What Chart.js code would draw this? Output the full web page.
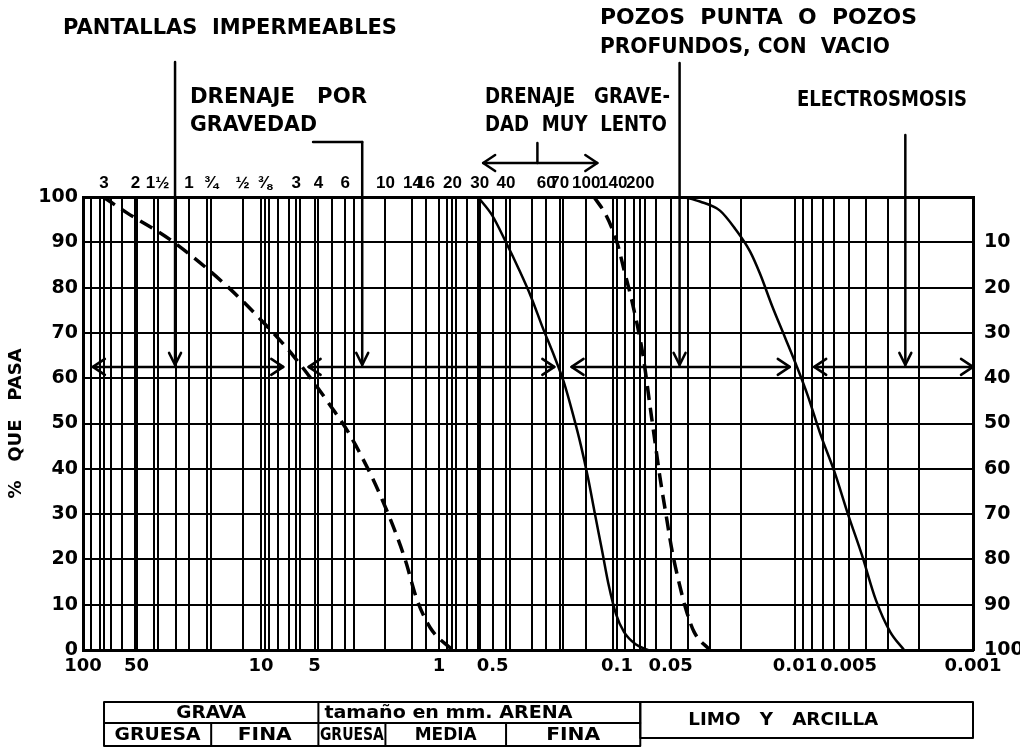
<!DOCTYPE html>
<html>
<head>
<meta charset="utf-8">
<script src="https://cdn.jsdelivr.net/npm/chart.js@4.4.1/dist/chart.umd.min.js"></script>
<style>
  html, body { margin: 0; padding: 0; background: #fff; }
  #box { width: 1020px; height: 751px; }
</style>
</head>
<body>
<div id="box"><canvas id="granulometria"></canvas></div>
<script>
// diametros en mm y % que pasa
const gravaMm  = [77, 56.6, 32.4, 15.5, 9.75, 6.6, 4.0, 3.16, 2.14, 1.55, 1.34, 1.12, 0.84];
const gravaPct = [100, 96.5, 90.6, 80.3, 72.4, 65, 53.5, 47.4, 34.2, 20, 11.5, 4.9, 0];

const arenaMm  = [0.604, 0.5035, 0.4205, 0.3554, 0.3043, 0.2605, 0.2259, 0.1985, 0.1767, 0.1592, 0.1455, 0.133, 0.1214, 0.1109, 0.1014, 0.0914, 0.0782, 0.067];
const arenaPct = [100, 96, 90, 84, 78, 71, 65, 59, 52, 45, 38, 30, 22, 14, 8, 4, 1.2, 0];

const limoMm  = [0.1346, 0.1153, 0.1, 0.0914, 0.0824, 0.0714, 0.0653, 0.0612, 0.0573, 0.0531, 0.0491, 0.0449, 0.041, 0.0369, 0.0301];
const limoPct = [100, 96, 90, 84, 77, 65, 54, 46, 38, 30, 22, 15, 9, 4, 0];

const arcillaMm  = [0.0426, 0.0342, 0.0264, 0.0217, 0.0179, 0.0157, 0.01346, 0.01138, 0.00975, 0.00845, 0.00725, 0.00596, 0.00504, 0.00421, 0.00351, 0.00292, 0.00244];
const arcillaPct = [100, 99, 97, 93, 88, 83, 76, 69, 62.5, 56, 48, 39, 30, 21, 11, 4, 0];

// etiquetas de los ejes
const sizeTicksMm = [100, 50, 10, 5, 1, 0.5, 0.1, 0.05, 0.01, 0.005, 0.001];
const sizeTickLabels = ['100', '50', '10', '5', '1', '0.5', '0.1', '0.05', '0.01', '0.005', '0.001'];
const sieveMm = [76.2, 50.8, 38.1, 25.4, 19.05, 12.7, 9.52, 6.35, 4.76, 3.36, 2.0, 1.41, 1.19, 0.84, 0.59, 0.42, 0.25, 0.21, 0.149, 0.105, 0.074];
const sieveLabels = ['3', '2', '1½', '1', '¾', '½', '⅜', '3', '4', '6', '10', '14', '16', '20', '30', '40', '60', '70', '100', '140', '200'];

// anotaciones (tamanos en mm)
const arrowPct = 62.5;
const rangosMm = [[88, 7.5], [5.4, 0.225], [0.18, 0.0107], [0.0078, 0.001]];
const pantallasMm = 30.4, gravedadMm = 2.7, gravedadCodoMm = 5.1;
const lentoMm = [0.565, 0.28, 0.129];
const pozosMm = 0.0445, electroMm = 0.0024;

const notas = [
  { text: 'PANTALLAS  IMPERMEABLES', dx: -20, dy: -169, w: 334 },
  { text: 'DRENAJE   POR', dx: 107, dy: -100, w: 177 },
  { text: 'GRAVEDAD', dx: 107, dy: -72, w: 127 },
  { text: 'DRENAJE   GRAVE-', dx: 402, dy: -100, w: 185 },
  { text: 'DAD  MUY  LENTO', dx: 402, dy: -72, w: 182 },
  { text: 'POZOS  PUNTA  O  POZOS', dx: 517, dy: -179, w: 317 },
  { text: 'PROFUNDOS, CON  VACIO', dx: 517, dy: -150, w: 290 },
  { text: 'ELECTROSMOSIS', dx: 714, dy: -97, w: 170 }
];

const gridMm = [];
[0.001, 0.01, 0.1, 1, 10].forEach(dec => {
  for (let m = 1; m <= 9; m++) gridMm.push(+(m * dec).toPrecision(3));
});
gridMm.push(100);

const toXY = (xs, ys) => xs.map((v, i) => ({ x: v, y: ys[i] }));

function fitText(ctx, text, left, cy, w, font) {
  ctx.font = font;
  const m = ctx.measureText(text).width;
  ctx.save();
  ctx.translate(left, cy);
  ctx.scale(w / m, 1);
  ctx.textAlign = 'left';
  ctx.textBaseline = 'middle';
  ctx.fillText(text, 0, 0);
  ctx.restore();
}

function centerText(ctx, text, x1, x2, cy, w, font) {
  fitText(ctx, text, (x1 + x2) / 2 - w / 2, cy, w, font);
}

function line(ctx, x1, y1, x2, y2) {
  ctx.beginPath();
  ctx.moveTo(x1, y1);
  ctx.lineTo(x2, y2);
  ctx.stroke();
}

function hArrow(ctx, x1, x2, y) {
  line(ctx, x1, y, x2, y);
  ctx.beginPath();
  ctx.moveTo(x1 + 12, y - 8); ctx.lineTo(x1, y); ctx.lineTo(x1 + 12, y + 8);
  ctx.moveTo(x2 - 12, y - 8); ctx.lineTo(x2, y); ctx.lineTo(x2 - 12, y + 8);
  ctx.stroke();
}

function vArrow(ctx, x, y1, y2) {
  line(ctx, x, y1, x, y2);
  ctx.beginPath();
  ctx.moveTo(x - 6, y2 - 12); ctx.lineTo(x, y2); ctx.lineTo(x + 6, y2 - 12);
  ctx.stroke();
}

const anotaciones = {
  id: 'anotaciones',
  afterDraw(chart) {
    const { ctx, chartArea: a, scales } = chart;
    const X = d => scales.x.getPixelForValue(d);
    const Y = p => scales.y.getPixelForValue(p);
    const yArrow = Y(arrowPct);

    ctx.save();
    ctx.strokeStyle = '#000';
    ctx.fillStyle = '#000';
    ctx.lineWidth = 2.5;
    ctx.lineCap = 'round';
    ctx.lineJoin = 'round';

    rangosMm.forEach(([d1, d2]) => hArrow(ctx, X(d1), X(d2), yArrow));

    vArrow(ctx, X(pantallasMm), a.top - 135, yArrow - 2);
    line(ctx, X(gravedadCodoMm), a.top - 55, X(gravedadMm), a.top - 55);
    vArrow(ctx, X(gravedadMm), a.top - 55, yArrow - 2);
    vArrow(ctx, X(pozosMm), a.top - 134, yArrow - 2);
    vArrow(ctx, X(electroMm), a.top - 62, yArrow - 2);
    hArrow(ctx, X(lentoMm[0]), X(lentoMm[2]), a.top - 34);
    line(ctx, X(lentoMm[1]), a.top - 54, X(lentoMm[1]), a.top - 34);

    notas.forEach(n => fitText(ctx, n.text, a.left + n.dx, a.top + n.dy, n.w, 'bold 22px "DejaVu Sans"'));

    // tabla de clasificacion
    const tTop = a.bottom + 52, tMid = a.bottom + 73, tBot = a.bottom + 96, limoBot = a.bottom + 88;
    const xL = X(76.2), xGF = X(19.05), xGA = X(4.76), xGM = X(2.0), xMF = X(0.42), xAL = X(0.074), xR = X(0.001);
    ctx.lineWidth = 2;
    ctx.strokeRect(xL, tTop, xAL - xL, tBot - tTop);
    line(ctx, xL, tMid, xAL, tMid);
    line(ctx, xGA, tTop, xGA, tBot);
    line(ctx, xGF, tMid, xGF, tBot);
    line(ctx, xGM, tMid, xGM, tBot);
    line(ctx, xMF, tMid, xMF, tBot);
    ctx.strokeRect(xAL, tTop, xR - xAL, limoBot - tTop);

    const f = 'bold 17px "DejaVu Sans"';
    const r1 = (tTop + tMid) / 2 + 1, r2 = (tMid + tBot) / 2 + 1;
    centerText(ctx, 'GRAVA', xL, xGA, r1, 70, f);
    fitText(ctx, 'tamaño en mm. ARENA', xGA + 6, r1, 248, f);
    centerText(ctx, 'GRUESA', xL, xGF, r2, 86, f);
    centerText(ctx, 'FINA', xGF, xGA, r2, 54, f);
    centerText(ctx, 'GRUESA', xGA, xGM, r2, 64, f);
    centerText(ctx, 'MEDIA', xGM, xMF, r2, 62, f);
    centerText(ctx, 'FINA', xMF, xAL, r2, 54, f);
    fitText(ctx, 'LIMO   Y   ARCILLA', xAL + 48, (tTop + limoBot) / 2 + 1, 190, f);
    ctx.restore();
  }
};

const tickFont = { family: '"DejaVu Sans"', weight: 'bold', size: 19 };
const gridStyle = { color: '#000', lineWidth: 2, drawTicks: false };
const borderStyle = { color: '#000', width: 3 };

new Chart(document.getElementById('granulometria'), {
  type: 'line',
  data: {
    datasets: [
      { label: 'Grava', data: toXY(gravaMm, gravaPct), borderDash: [14, 8], borderWidth: 3.5 },
      { label: 'Arena', data: toXY(arenaMm, arenaPct), borderWidth: 2.5 },
      { label: 'Limo', data: toXY(limoMm, limoPct), borderDash: [14, 8], borderWidth: 3.5 },
      { label: 'Arcilla', data: toXY(arcillaMm, arcillaPct), borderWidth: 2.5 }
    ]
  },
  options: {
    responsive: true,
    maintainAspectRatio: false,
    animation: false,
    layout: { padding: { top: 169, bottom: 71, left: 0, right: 0 } },
    elements: {
      point: { radius: 0 },
      line: { borderColor: '#000', cubicInterpolationMode: 'monotone', fill: false, borderCapStyle: 'butt' }
    },
    plugins: { legend: { display: false }, tooltip: { enabled: false } },
    scales: {
      x: {
        type: 'logarithmic', min: 0.001, max: 100, reverse: true, position: 'bottom',
        afterBuildTicks: s => { s.ticks = gridMm.map(v => ({ value: v })); },
        afterFit: s => { s.height = 30; },
        grid: gridStyle, border: borderStyle,
        ticks: {
          autoSkip: false, maxRotation: 0, padding: 6, color: '#000',
          font: { family: '"DejaVu Sans"', weight: 'bold', size: 18 },
          callback: v => {
            const i = sizeTicksMm.findIndex(t => Math.abs(t - v) / t < 1e-6);
            return i >= 0 ? sizeTickLabels[i] : '';
          }
        }
      },
      x2: {
        type: 'logarithmic', min: 0.001, max: 100, reverse: true, position: 'top',
        afterBuildTicks: s => { s.ticks = sieveMm.map(v => ({ value: v })); },
        afterFit: s => { s.height = 28; },
        grid: gridStyle, border: borderStyle,
        ticks: {
          autoSkip: false, maxRotation: 0, padding: 3, color: '#000',
          font: { family: '"Liberation Sans Narrow", "Liberation Sans"', weight: 'bold', size: 17 },
          callback: v => sieveLabels[sieveMm.findIndex(t => Math.abs(t - v) / t < 1e-6)] || ''
        }
      },
      y: {
        min: 0, max: 100, position: 'left',
        afterFit: s => { s.width = 83; },
        grid: gridStyle, border: borderStyle,
        title: { display: true, text: '%   QUE   PASA', color: '#000', font: { family: '"DejaVu Sans"', weight: 'bold', size: 18 }, padding: { top: 6, bottom: 0 } },
        ticks: { stepSize: 5, padding: 5, color: '#000', font: tickFont, callback: v => (v % 10 === 0 ? v : '') }
      },
      y2: {
        min: 0, max: 100, position: 'right',
        afterFit: s => { s.width = 47; },
        grid: { display: false }, border: borderStyle,
        ticks: { stepSize: 5, padding: 3, color: '#000', font: tickFont, callback: v => (v % 10 === 0 && v < 100 ? 100 - v : '') }
      }
    }
  },
  plugins: [anotaciones]
});
</script>
</body>
</html>
